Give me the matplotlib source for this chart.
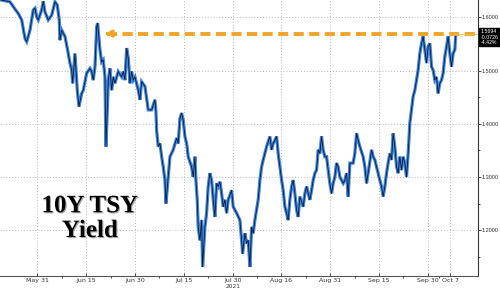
import numpy as np
import matplotlib
matplotlib.use('Agg')
import matplotlib.pyplot as plt
import matplotlib.patheffects as pe
from matplotlib.ticker import MultipleLocator

# time axis: business days counted from 2021-05-31 (fractional = intraday)
days = [-8.40, -6.15, -5.41, -4.28, -3.51, -2.77, -2.39, -1.64, -0.90, -0.52,
        -0.14, 0.23, 0.99, 1.35, 1.73, 2.48, 3.24, 3.99, 4.50, 4.95,
        5.11, 5.50, 6.24, 6.98, 7.36, 7.75, 7.97, 8.49, 9.01, 9.39,
        10.00, 10.36, 11.13, 11.87, 12.25, 12.61, 13.00, 13.38, 13.60, 14.12,
        14.50, 14.86, 15.25, 15.47, 15.86, 15.99, 16.37, 16.76, 17.12, 17.50,
        18.24, 19.01, 19.37, 19.75, 20.14, 20.50, 20.88, 21.26, 21.62, 22.00,
        22.75, 23.13, 23.51, 24.26, 25.00, 25.77, 26.51, 26.73, 26.89, 27.25,
        27.64, 28.02, 28.38, 28.76, 28.99, 29.50, 29.89, 30.63, 31.40, 31.76,
        32.14, 32.52, 32.88, 33.27, 33.65, 34.01, 34.77, 35.14, 35.52, 35.74,
        36.04, 36.26, 36.64, 37.03, 37.25, 37.77, 38.15, 38.51, 38.90, 39.28,
        39.64, 40.02, 40.41, 40.77, 41.15, 41.53, 41.89, 42.27, 42.66, 43.02,
        43.78, 44.14, 44.91, 45.65, 46.04, 46.26, 46.78, 47.16, 47.52, 47.91,
        48.29, 48.65, 49.03, 49.77, 50.16, 50.54, 50.90, 51.67, 52.41, 52.79,
        53.15, 53.54, 53.92, 54.28, 55.05, 55.41, 55.79, 56.17, 56.53, 56.91,
        57.30, 57.66, 58.04, 58.42, 58.78, 59.17, 59.91, 60.29, 60.68, 61.04,
        61.42, 61.80, 62.16, 62.55, 62.93, 63.29, 63.67, 64.05, 64.41, 64.80,
        65.18, 65.54, 65.92, 66.31, 66.67, 67.05, 67.43, 67.79, 68.18, 68.56,
        68.92, 69.30, 69.68, 70.05, 70.43, 71.17, 71.55, 71.94, 72.30, 72.68,
        73.42, 73.81, 74.19, 74.55, 75.32, 75.68, 76.06, 76.44, 77.18, 77.57,
        77.93, 78.31, 78.69, 79.05, 79.44, 79.82, 80.18, 80.56, 80.95, 81.31,
        81.69, 82.07, 82.43, 82.82, 83.20, 83.56, 83.94, 84.32, 84.68, 85.07,
        85.45, 85.81, 86.19, 86.58, 86.94, 87.32, 87.70, 88.06, 88.45, 88.83,
        89.19, 89.57, 89.95, 90.32, 90.70, 91.08, 91.44, 91.82, 92.21, 92.57,
        92.95, 93.33, 93.69, 94.08, 94.30]

yields = [1.633, 1.629, 1.620, 1.607, 1.595, 1.560, 1.554, 1.576, 1.614, 1.617,
          1.601, 1.595, 1.614, 1.630, 1.610, 1.595, 1.604, 1.629, 1.623, 1.595,
          1.557, 1.576, 1.564, 1.532, 1.514, 1.501, 1.476, 1.532, 1.463, 1.432,
          1.457, 1.463, 1.495, 1.504, 1.498, 1.482, 1.507, 1.582, 1.589, 1.539,
          1.516, 1.520, 1.488, 1.357, 1.445, 1.482, 1.504, 1.463, 1.488, 1.476,
          1.498, 1.488, 1.498, 1.482, 1.542, 1.523, 1.476, 1.498, 1.482, 1.488,
          1.463, 1.445, 1.479, 1.470, 1.426, 1.426, 1.445, 1.423, 1.388, 1.357,
          1.363, 1.338, 1.319, 1.294, 1.250, 1.300, 1.338, 1.351, 1.373, 1.363,
          1.410, 1.420, 1.407, 1.376, 1.363, 1.338, 1.319, 1.300, 1.338, 1.294,
          1.257, 1.206, 1.181, 1.219, 1.131, 1.206, 1.232, 1.282, 1.307, 1.294,
          1.257, 1.225, 1.288, 1.282, 1.291, 1.269, 1.244, 1.257, 1.232, 1.257,
          1.275, 1.244, 1.232, 1.219, 1.181, 1.156, 1.194, 1.175, 1.181, 1.131,
          1.206, 1.194, 1.219, 1.257, 1.294, 1.319, 1.332, 1.357, 1.376, 1.351,
          1.363, 1.369, 1.376, 1.344, 1.294, 1.275, 1.244, 1.232, 1.219, 1.257,
          1.282, 1.294, 1.269, 1.238, 1.225, 1.263, 1.244, 1.269, 1.282, 1.269,
          1.257, 1.275, 1.294, 1.307, 1.313, 1.351, 1.344, 1.376, 1.351, 1.338,
          1.338, 1.313, 1.288, 1.269, 1.288, 1.300, 1.326, 1.319, 1.300, 1.294,
          1.288, 1.294, 1.307, 1.263, 1.326, 1.326, 1.344, 1.382, 1.369, 1.357,
          1.338, 1.319, 1.288, 1.307, 1.351, 1.338, 1.332, 1.319, 1.294, 1.282,
          1.263, 1.282, 1.307, 1.326, 1.344, 1.332, 1.382, 1.357, 1.319, 1.307,
          1.338, 1.313, 1.338, 1.326, 1.300, 1.344, 1.401, 1.426, 1.451, 1.463,
          1.482, 1.501, 1.532, 1.551, 1.564, 1.539, 1.514, 1.545, 1.551, 1.507,
          1.501, 1.482, 1.488, 1.457, 1.476, 1.482, 1.495, 1.526, 1.545, 1.564,
          1.532, 1.507, 1.532, 1.539, 1.5694]

tick_dates = ['2021-05-31', '2021-06-15', '2021-06-30', '2021-07-15', '2021-07-30',
              '2021-08-16', '2021-08-31', '2021-09-15', '2021-09-30', '2021-10-07']
tick_labels = ['May 31', 'Jun 15', 'Jun 30', 'Jul 15', 'Jul 30',
               'Aug 16', 'Aug 31', 'Sep 15', 'Sep 30', 'Oct 7']

last = 1.5694
last_chg = '-0.0726'
last_pct = '-4.42%'
prior_high_day = 14.6

tick_pos = np.busday_count('2021-05-31', tick_dates)
ylo, yhi = 1.1137, 1.6325

fig = plt.figure(figsize=(5, 2.9), dpi=100)
ax = fig.add_axes([0, 0.048, 0.956, 0.952])

ax.plot(days, yields, color='#3f86e0', lw=2.3, solid_joinstyle='miter')
ax.plot(days, yields, color='#0c1830', lw=0.6)

# dashed line back to the June high
ax.plot([prior_high_day + 1.2, 99.3], [last, last], color='#f0a52a', lw=2.8,
        ls=(0, (2.6, 1.4)))
ax.annotate('', xy=(prior_high_day, last), xytext=(prior_high_day + 2.0, last),
            arrowprops=dict(arrowstyle='-|>', color='#f0a52a', lw=2.2,
                            mutation_scale=9))
ax.axhline(last, xmin=0.95, color='#f0c050', lw=0.6)

ax.set_xlim(-8.4, 99.3)
ax.set_ylim(ylo, yhi)

ax.set_xticks(tick_pos)
ax.set_xticklabels(tick_labels)
ax.set_xticks((tick_pos[:-1] + tick_pos[1:]) / 2, minor=True)
ax.yaxis.tick_right()
ax.yaxis.set_major_locator(MultipleLocator(0.1))
ax.yaxis.set_minor_locator(MultipleLocator(0.05))
ax.yaxis.set_major_formatter(matplotlib.ticker.FormatStrFormatter('%.4f'))
ax.tick_params(axis='x', labelsize=4.5, colors='#333333', length=2.5,
               width=0.6, pad=1.5, direction='in')
ax.tick_params(axis='y', labelsize=4.0, colors='#333333', length=2.0,
               width=0.6, pad=0.8)
ax.tick_params(axis='both', which='minor', length=1.5, width=0.5)
for lbl in ax.get_yticklabels():
    lbl.set_family('Liberation Sans')

ax.grid(True, which='major', color='#b8b8b8', ls=(0, (1, 2)), lw=0.7)
for s in ['top', 'left']:
    ax.spines[s].set_visible(False)
ax.spines['right'].set_color('#333333')
ax.spines['bottom'].set_color('#555555')
ax.spines['right'].set_linewidth(0.8)
ax.spines['bottom'].set_linewidth(0.8)

ax.text(tick_pos[4], -0.03, '2021', transform=ax.get_xaxis_transform(),
        ha='center', va='top', fontsize=4.2, color='#333333')

ax.text(1.005, (last - ylo) / (yhi - ylo) + 0.015,
        f'{last:.4f}\n{last_chg}\n{last_pct}', transform=ax.transAxes,
        ha='left', va='top', fontsize=3.8, color='white', linespacing=1.05,
        family='Liberation Sans',
        bbox=dict(boxstyle='square,pad=0.25', fc='black', ec='black'),
        clip_on=False)

ax.text(0.188, 0.21, '10Y TSY\nYield', transform=ax.transAxes,
        ha='center', va='center', fontsize=18, fontweight='bold',
        family='Liberation Serif', linespacing=1.1, color='black',
        path_effects=[pe.SimplePatchShadow(offset=(0.8, -0.8), alpha=0.35),
                      pe.Normal()])

fig.savefig('out.png', dpi=100)
